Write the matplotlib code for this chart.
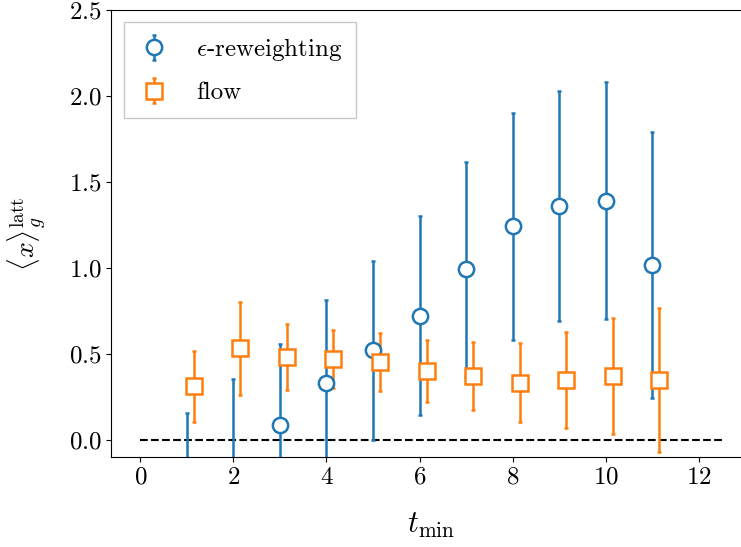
import matplotlib
matplotlib.use("Agg")
import matplotlib.pyplot as plt

plt.rcParams["font.family"] = "serif"
plt.rcParams["font.serif"] = ["cmr10"]
plt.rcParams["mathtext.fontset"] = "cm"
plt.rcParams["axes.formatter.use_mathtext"] = True

# t_min values and estimates
t_min = [1, 2, 3, 4, 5, 6, 7, 8, 9, 10, 11]
eps_val = [-0.25, -0.2, 0.087, 0.33, 0.52, 0.72, 0.99, 1.24, 1.36, 1.39, 1.015]
eps_err = [0.405, 0.55, 0.47, 0.48, 0.52, 0.58, 0.625, 0.66, 0.67, 0.69, 0.775]
flow_val = [0.31, 0.53, 0.48, 0.47, 0.45, 0.40, 0.37, 0.33, 0.345, 0.37, 0.345]
flow_err = [0.205, 0.27, 0.19, 0.17, 0.17, 0.18, 0.2, 0.23, 0.28, 0.34, 0.42]
shift = 0.15

fig = plt.figure(figsize=(7.41, 5.47), dpi=100)
ax = fig.add_axes([0.150, 0.165, 0.864, 0.817])

ax.plot([0, 12.5], [0, 0], "k--", lw=1.5)
ax.errorbar(t_min, eps_val, yerr=eps_err, fmt="o", color="C0", mfc="white",
            ms=11, mew=1.8, elinewidth=1.8, capsize=1.5, capthick=1.8,
            label=r"$\epsilon$-reweighting")
ax.errorbar([t + shift for t in t_min], flow_val, yerr=flow_err, fmt="s",
            color="C1", mfc="white", ms=11, mew=1.8, elinewidth=1.8,
            capsize=1.5, capthick=1.8, label="flow")

ax.set_xlim(-0.625, 13.125)
ax.set_ylim(-0.1, 2.5)
ax.set_xticks([0, 2, 4, 6, 8, 10, 12])
ax.set_yticks([0.0, 0.5, 1.0, 1.5, 2.0, 2.5])
ax.tick_params(labelsize=18)
ax.set_xlabel(r"$t_{\rm min}$", fontsize=22, labelpad=16)
ax.set_ylabel(r"$\langle x\rangle_g^{\rm latt}$", fontsize=20, labelpad=14)

leg = ax.legend(loc="upper left", fontsize=18, fancybox=False,
                handlelength=1.35, handletextpad=1.0, borderpad=0.55,
                labelspacing=0.75)
leg.get_frame().set_edgecolor("#bbbbbb")

fig.savefig("out.png", dpi=100)
